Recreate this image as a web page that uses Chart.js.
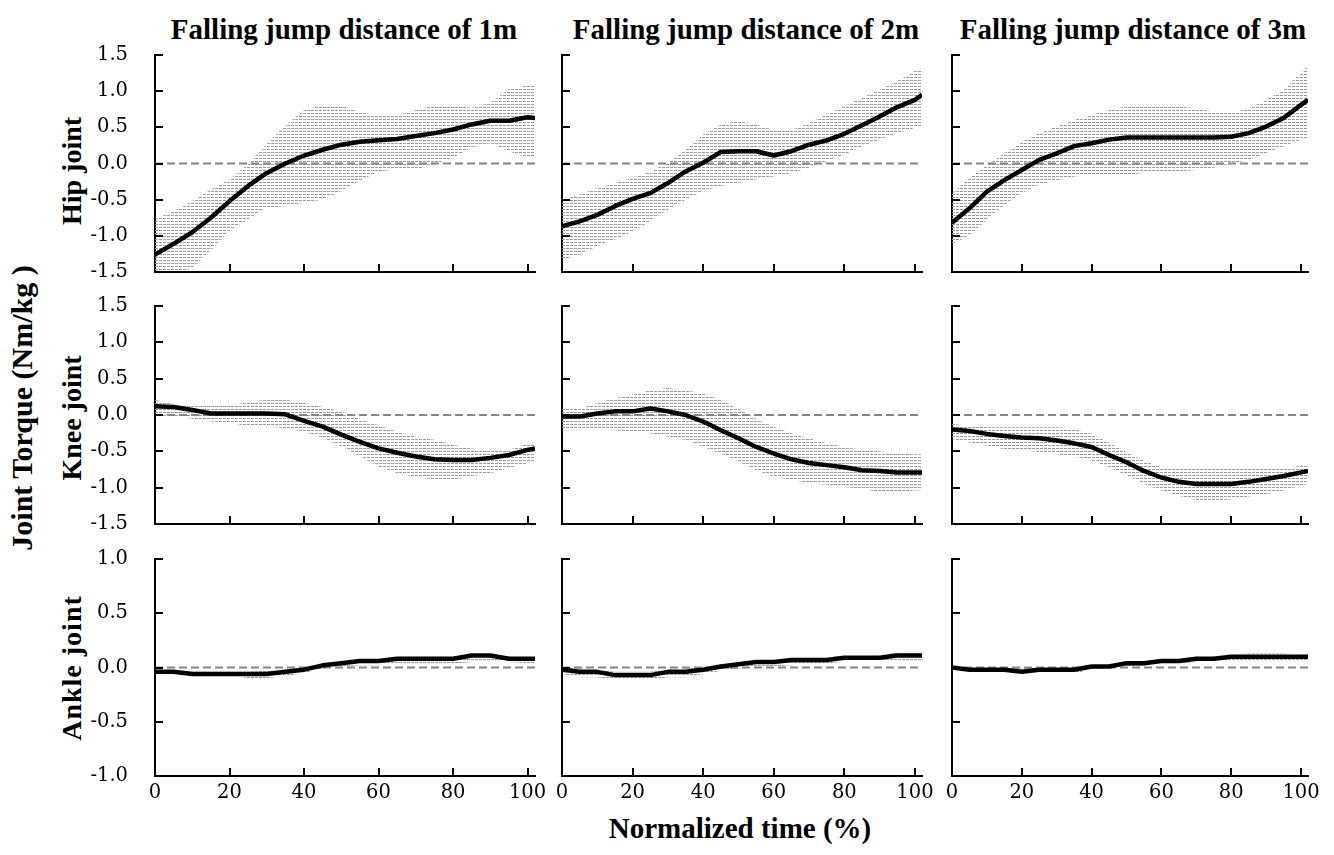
<!DOCTYPE html>
<html><head><meta charset="utf-8">
<script src="https://cdn.jsdelivr.net/npm/chart.js@4.4.1/dist/chart.umd.min.js"></script>
<style>
body{margin:0;background:#fff;width:1334px;height:855px;position:relative;overflow:hidden;font-family:"Liberation Serif","Times New Roman",serif;}
canvas{position:absolute;}
.t{position:absolute;font-weight:bold;white-space:nowrap;color:#000;transform:translate(-50%,-50%);line-height:1;}
.r{transform:translate(-50%,-50%) rotate(-90deg);}
</style></head><body>
<div class="t" style="left:344px;top:29px;font-size:29px;">Falling jump distance of 1m</div>
<div class="t" style="left:746px;top:29px;font-size:29px;">Falling jump distance of 2m</div>
<div class="t" style="left:1133px;top:29px;font-size:29px;">Falling jump distance of 3m</div>
<div class="t" style="left:740px;top:828px;font-size:29px;">Normalized time (%)</div>
<div class="t r" style="left:72px;top:171px;font-size:28px;">Hip joint</div>
<div class="t r" style="left:72px;top:418px;font-size:28px;">Knee joint</div>
<div class="t r" style="left:72px;top:668px;font-size:28px;letter-spacing:1px;">Ankle joint</div>
<div class="t r" style="left:22px;top:408px;font-size:30px;">Joint Torque (Nm/kg )</div>
<script>
// ---- data ----
const xPct = [0,5,10,15,20,25,30,35,40,45,50,55,60,65,70,75,80,85,90,95,100,102];
const xTicks = [0,20,40,60,80,100];
const torqueTicks = [-1.5,-1.0,-0.5,0.0,0.5,1.0,1.5];
const ankleTicks = [-1.0,-0.5,0.0,0.5,1.0];
const zeroLine = [0, 0];

const hip1Mean  = [-1.26,-1.11,-0.95,-0.75,-0.52,-0.31,-0.13,0.00,0.11,0.19,0.26,0.30,0.32,0.34,0.38,0.42,0.47,0.54,0.59,0.59,0.64,0.63];
const hip1Upper = [-0.77,-0.66,-0.52,-0.36,-0.22,-0.01,0.27,0.53,0.74,0.81,0.81,0.71,0.66,0.66,0.74,0.80,0.80,0.77,0.84,1.03,1.08,1.09];
const hip1Lower = [-1.55,-1.55,-1.44,-1.20,-0.93,-0.77,-0.61,-0.59,-0.54,-0.50,-0.38,-0.24,-0.11,-0.08,-0.08,-0.01,0.08,0.22,0.28,0.17,0.08,0.08];

const hip2Mean  = [-0.87,-0.80,-0.71,-0.59,-0.49,-0.41,-0.27,-0.11,0.01,0.16,0.17,0.17,0.11,0.17,0.26,0.32,0.41,0.53,0.65,0.78,0.88,0.95];
const hip2Upper = [-0.50,-0.43,-0.34,-0.27,-0.20,-0.11,0.01,0.19,0.40,0.54,0.59,0.54,0.46,0.46,0.56,0.68,0.79,0.91,1.02,1.14,1.28,1.32];
const hip2Lower = [-1.33,-1.26,-1.14,-1.05,-0.94,-0.80,-0.64,-0.50,-0.38,-0.31,-0.27,-0.22,-0.18,-0.13,-0.06,0.03,0.12,0.24,0.33,0.42,0.49,0.52];

const hip3Mean  = [-0.82,-0.62,-0.39,-0.23,-0.09,0.05,0.14,0.24,0.28,0.33,0.36,0.36,0.36,0.36,0.36,0.36,0.37,0.42,0.51,0.63,0.81,0.88];
const hip3Upper = [-0.41,-0.20,-0.02,0.14,0.30,0.42,0.51,0.60,0.67,0.74,0.79,0.79,0.79,0.79,0.76,0.72,0.70,0.76,0.88,1.02,1.25,1.36];
const hip3Lower = [-1.12,-0.99,-0.78,-0.57,-0.41,-0.29,-0.23,-0.18,-0.16,-0.16,-0.16,-0.13,-0.11,-0.11,-0.09,-0.06,0.00,0.05,0.14,0.24,0.33,0.35];

const knee1Mean  = [0.12,0.11,0.07,0.02,0.02,0.02,0.02,0.01,-0.08,-0.16,-0.27,-0.37,-0.46,-0.52,-0.57,-0.61,-0.62,-0.62,-0.59,-0.55,-0.48,-0.46];
const knee1Upper = [0.21,0.15,0.12,0.13,0.13,0.18,0.21,0.21,0.17,0.11,0.05,-0.05,-0.14,-0.23,-0.30,-0.34,-0.41,-0.46,-0.50,-0.48,-0.39,-0.38];
const knee1Lower = [-0.02,-0.02,-0.05,-0.09,-0.11,-0.15,-0.16,-0.18,-0.23,-0.32,-0.43,-0.57,-0.71,-0.80,-0.85,-0.89,-0.89,-0.84,-0.80,-0.73,-0.66,-0.64];

const knee2Mean  = [-0.02,-0.02,0.02,0.05,0.05,0.09,0.05,0.00,-0.09,-0.21,-0.32,-0.44,-0.53,-0.61,-0.66,-0.69,-0.72,-0.76,-0.77,-0.79,-0.79,-0.79];
const knee2Upper = [0.09,0.09,0.16,0.23,0.28,0.34,0.37,0.34,0.30,0.21,0.09,-0.05,-0.16,-0.25,-0.32,-0.39,-0.44,-0.48,-0.50,-0.53,-0.54,-0.54];
const knee2Lower = [-0.21,-0.21,-0.18,-0.21,-0.23,-0.25,-0.30,-0.34,-0.44,-0.53,-0.64,-0.76,-0.85,-0.89,-0.94,-0.96,-0.99,-1.02,-1.06,-1.06,-1.04,-1.04];

const knee3Mean  = [-0.20,-0.22,-0.26,-0.29,-0.31,-0.32,-0.35,-0.39,-0.44,-0.55,-0.65,-0.77,-0.86,-0.92,-0.95,-0.95,-0.95,-0.92,-0.88,-0.84,-0.79,-0.77];
const knee3Upper = [-0.12,-0.15,-0.17,-0.17,-0.17,-0.17,-0.17,-0.19,-0.26,-0.38,-0.51,-0.63,-0.72,-0.74,-0.74,-0.74,-0.74,-0.74,-0.74,-0.73,-0.70,-0.69];
const knee3Lower = [-0.33,-0.38,-0.42,-0.47,-0.49,-0.51,-0.54,-0.57,-0.63,-0.72,-0.83,-0.95,-1.04,-1.11,-1.17,-1.18,-1.16,-1.12,-1.09,-1.04,-0.97,-0.95];

const ankle1Mean  = [-0.04,-0.04,-0.06,-0.06,-0.06,-0.06,-0.06,-0.04,-0.02,0.02,0.04,0.06,0.06,0.08,0.08,0.08,0.08,0.11,0.11,0.08,0.08,0.08];
const ankle1Upper = [-0.01,-0.02,-0.04,-0.04,-0.04,-0.04,-0.03,-0.02,0.00,0.03,0.05,0.06,0.07,0.08,0.09,0.09,0.09,0.12,0.12,0.10,0.09,0.09];
const ankle1Lower = [-0.05,-0.06,-0.07,-0.07,-0.07,-0.10,-0.10,-0.08,-0.05,-0.01,0.01,0.02,0.02,0.03,0.03,0.03,0.03,0.05,0.06,0.05,0.04,0.04];

const ankle2Mean  = [-0.02,-0.04,-0.04,-0.07,-0.07,-0.07,-0.04,-0.04,-0.02,0.01,0.03,0.05,0.05,0.07,0.07,0.07,0.09,0.09,0.09,0.11,0.11,0.11];
const ankle2Upper = [0.00,-0.01,-0.02,-0.04,-0.04,-0.04,-0.02,-0.01,0.00,0.02,0.04,0.05,0.06,0.08,0.08,0.09,0.11,0.11,0.11,0.14,0.14,0.14];
const ankle2Lower = [-0.06,-0.09,-0.09,-0.11,-0.11,-0.11,-0.09,-0.09,-0.06,-0.03,-0.01,0.00,0.01,0.02,0.03,0.04,0.05,0.05,0.05,0.05,0.05,0.05];

const ankle3Mean  = [0.00,-0.02,-0.02,-0.02,-0.04,-0.02,-0.02,-0.02,0.01,0.01,0.04,0.04,0.06,0.06,0.08,0.08,0.10,0.10,0.10,0.10,0.10,0.10];
const ankle3Upper = [0.00,0.00,0.00,0.00,-0.01,0.00,0.00,0.00,0.02,0.03,0.05,0.06,0.07,0.08,0.09,0.10,0.12,0.13,0.13,0.13,0.12,0.12];
const ankle3Lower = [-0.03,-0.03,-0.03,-0.03,-0.06,-0.06,-0.06,-0.06,-0.01,0.00,0.01,0.02,0.03,0.04,0.05,0.05,0.06,0.06,0.06,0.06,0.06,0.06];

// ---- layout ----
const colGeom = [{x0:155,x1:535},{x0:562,x1:922},{x0:952,x1:1308}];
const rowGeom = [{y0:55,y1:272,ticks:torqueTicks,min:-1.5,max:1.5},
                 {y0:306,y1:524,ticks:torqueTicks,min:-1.5,max:1.5},
                 {y0:559,y1:776,ticks:ankleTicks,min:-1.0,max:1.0}];
const panels = [
  [hip1Mean,hip1Upper,hip1Lower,0,0],[hip2Mean,hip2Upper,hip2Lower,0,1],[hip3Mean,hip3Upper,hip3Lower,0,2],
  [knee1Mean,knee1Upper,knee1Lower,1,0],[knee2Mean,knee2Upper,knee2Lower,1,1],[knee3Mean,knee3Upper,knee3Lower,1,2],
  [ankle1Mean,ankle1Upper,ankle1Lower,2,0],[ankle2Mean,ankle2Upper,ankle2Lower,2,1],[ankle3Mean,ankle3Upper,ankle3Lower,2,2]
];

const inwardTicks = {
  id:'inwardTicks',
  afterDraw(chart){
    const {ctx, chartArea:a, scales:{x,y}} = chart;
    ctx.save(); ctx.strokeStyle='#000'; ctx.lineWidth=2;
    y.ticks.forEach(t=>{const py=Math.round(y.getPixelForValue(t.value)); ctx.beginPath(); ctx.moveTo(a.left,py); ctx.lineTo(a.left+8,py); ctx.stroke();});
    x.ticks.forEach(t=>{ if(t.value===0) return; const px=Math.round(x.getPixelForValue(t.value)); ctx.beginPath(); ctx.moveTo(px,a.bottom); ctx.lineTo(px,a.bottom-8); ctx.stroke();});
    ctx.restore();
  }
};

const tickFont = {family:'DejaVu Serif', size:19.5};
const pts = arr => xPct.map((x,i)=>({x:x,y:arr[i]}));

panels.forEach(([mean,upper,lower,r,c])=>{
  const cg=colGeom[c], rg=rowGeom[r];
  const padL = c===0?100:12, padR=24, padT=14, padB = r===2?44:12;
  const cv=document.createElement('canvas');
  const W=(cg.x1-cg.x0)+padL+padR, H=(rg.y1-rg.y0)+padT+padB;
  cv.width=W; cv.height=H;
  cv.style.left=(cg.x0-padL)+'px'; cv.style.top=(rg.y0-padT)+'px';
  cv.style.width=W+'px'; cv.style.height=H+'px';
  document.body.appendChild(cv);
  const ctx=cv.getContext('2d');
  const tile=document.createElement('canvas'); tile.width=4; tile.height=3;
  const tg=tile.getContext('2d'); tg.fillStyle='#9a9a9a'; tg.fillRect(0,0,3,1);
  const pattern=ctx.createPattern(tile,'repeat');
  new Chart(ctx,{
    type:'line',
    data:{datasets:[
      {data:pts(mean),borderColor:'#000',borderWidth:4.5,pointRadius:0,tension:0,fill:false,borderJoinStyle:'round'},
      {data:[{x:0,y:zeroLine[0]},{x:102,y:zeroLine[1]}],borderColor:'#858585',borderWidth:2,borderDash:[8,4],pointRadius:0,fill:false},
      {data:pts(upper),borderWidth:0,borderColor:'rgba(0,0,0,0)',pointRadius:0,tension:0,fill:'+1',backgroundColor:pattern},
      {data:pts(lower),borderWidth:0,borderColor:'rgba(0,0,0,0)',pointRadius:0,tension:0,fill:false}
    ]},
    options:{
      responsive:false, animation:false, devicePixelRatio:1,
      layout:{padding:{top:padT,right:padR,left:0,bottom:0}},
      plugins:{legend:{display:false},tooltip:{enabled:false}},
      scales:{
        x:{type:'linear',min:0,max:102,
           afterFit(s){s.height=padB; s.paddingLeft=0; s.paddingRight=0;},
           afterBuildTicks(s){s.ticks=xTicks.map(v=>({value:v}));},
           ticks:{display:r===2,font:tickFont,color:'#000',padding:5,maxRotation:0,autoSkip:false},
           grid:{display:true,drawOnChartArea:false,drawTicks:false},
           border:{display:true,color:'#000',width:2}},
        y:{type:'linear',min:rg.min,max:rg.max,
           afterFit(s){s.width=padL; s.paddingTop=0; s.paddingBottom=0;},
           afterBuildTicks(s){s.ticks=rg.ticks.map(v=>({value:v}));},
           ticks:{display:c===0,font:tickFont,color:'#000',padding:27,callback:v=>v.toFixed(1)},
           grid:{display:true,drawOnChartArea:false,drawTicks:false},
           border:{display:true,color:'#000',width:2}}
      }
    },
    plugins:[inwardTicks]
  });
});
</script>
</body></html>
